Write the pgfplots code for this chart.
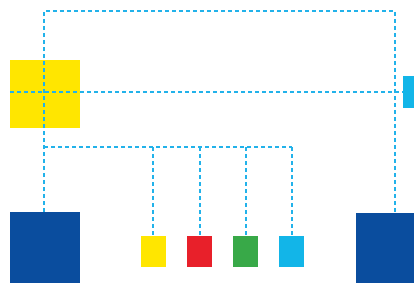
\documentclass[border=0pt]{standalone}
\usepackage{pgfplots}
\pgfplotsset{compat=1.18}
\definecolor{cyl}{HTML}{22B2EA}
\definecolor{ylw}{HTML}{FFE600}
\definecolor{rd}{HTML}{E8202A}
\definecolor{gr}{HTML}{38A948}
\definecolor{cy}{HTML}{12B5E8}
\definecolor{db}{HTML}{0A4D9E}
\begin{document}
\begin{tikzpicture}
\begin{axis}[
  scale only axis, width=414bp, height=283bp,
  xmin=0, xmax=414, ymin=0, ymax=283, y dir=reverse,
  axis line style={draw=none}, xtick=\empty, ytick=\empty, clip=true,
]
% shapes
\addplot[fill=ylw, draw=none] coordinates {(10,60) (80,60) (80,128) (10,128)} --cycle;
\addplot[fill=cy, draw=none] coordinates {(403,76) (415,76) (415,108) (403,108)} --cycle;
\addplot[fill=db, draw=none] coordinates {(10,212) (80,212) (80,284) (10,284)} --cycle;
\addplot[fill=db, draw=none] coordinates {(356,213) (415,213) (415,284) (356,284)} --cycle;
\addplot[fill=ylw, draw=none] coordinates {(141,236) (166,236) (166,267) (141,267)} --cycle;
\addplot[fill=rd, draw=none] coordinates {(187,236) (212,236) (212,267) (187,267)} --cycle;
\addplot[fill=gr, draw=none] coordinates {(233,236) (258,236) (258,267) (233,267)} --cycle;
\addplot[fill=cy, draw=none] coordinates {(279,236) (304,236) (304,267) (279,267)} --cycle;
% dashed connectors
\pgfplotsset{dl/.style={cyl, line width=2.8bp, dash pattern=on 4bp off 3bp}}
\addplot[dl] coordinates {(44,212) (44,11) (395,11) (395,213)};
\addplot[dl] coordinates {(10,92) (403,92)};
\addplot[dl] coordinates {(44,147) (292,147)};
\addplot[dl] coordinates {(153,147) (153,236)};
\addplot[dl] coordinates {(200,147) (200,236)};
\addplot[dl] coordinates {(246,147) (246,236)};
\addplot[dl] coordinates {(292,147) (292,236)};
\end{axis}
\end{tikzpicture}
\end{document}
